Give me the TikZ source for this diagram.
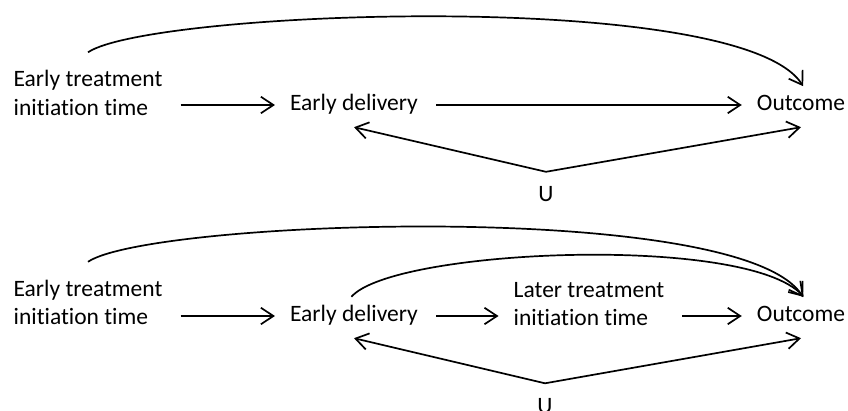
\documentclass[tikz,border=0pt]{standalone}
\usepackage{fontspec}
\setmainfont{Carlito}[Ligatures={NoCommon}]
\usetikzlibrary{arrows.meta}
\begin{document}
\begin{tikzpicture}[x=1pt,y=1pt,
  lbl/.style={font=\fontsize{23.5}{28.5}\selectfont, inner xsep=0pt, inner ysep=11.5pt, text height=16pt, text depth=5pt},
  two/.style={font=\fontsize{23.5}{28.5}\selectfont, align=left, inner xsep=0pt, inner ysep=18pt},
  unode/.style={lbl, inner ysep=13.5pt},
  arr/.style={line width=1.7pt, -{Straight Barb[length=12.5pt,width=16.5pt]}},
  harr/.style={arr, shorten <=18pt, shorten >=15pt},
  carr/.style={arr, shorten >=-4pt}]
\useasboundingbox (0,0) rectangle (848,410);
% top diagram
\node[two] (etit1) at (88,317) {Early treatment\\initiation time};
\node[lbl] (ed1) at (354,305) {Early delivery};
\node[lbl] (out1) at (801,305) {Outcome};
\node[unode] (u1) at (546,214) {U};
\draw[harr] (etit1.east |- ed1.center) -- (ed1.west);
\draw[harr] (ed1.east) -- (out1.west);
\draw[arr] (u1.north) -- (ed1.south);
\draw[arr] (u1.north) -- (out1.south);
\draw[carr] (etit1.north) .. controls +(62,42) and +(-60,95) .. (out1.north);
% bottom diagram
\node[two] (etit2) at (88,107.5) {Early treatment\\initiation time};
\node[lbl] (ed2) at (354,94) {Early delivery};
\node[two, inner ysep=0pt] (lt2) at (589,106) {Later treatment\\initiation time};
\node[lbl] (out2) at (801,94) {Outcome};
\node[unode] (u2) at (545,2.5) {U};
\draw[harr] (etit2.east |- ed2.center) -- (ed2.west);
\draw[harr] (ed2.east) -- (lt2.west |- ed2.center);
\draw[harr] (lt2.east |- out2.center) -- (out2.west);
\draw[arr] (u2.north) -- (ed2.south);
\draw[arr] (u2.north) -- (out2.south);
\draw[carr] (etit2.north) .. controls +(62,42) and +(-60,95) .. (out2.north);
\draw[carr, shorten <=-4pt] (ed2.north) .. controls +(39,45) and +(-55,60) .. (out2.north);
\end{tikzpicture}
\end{document}
